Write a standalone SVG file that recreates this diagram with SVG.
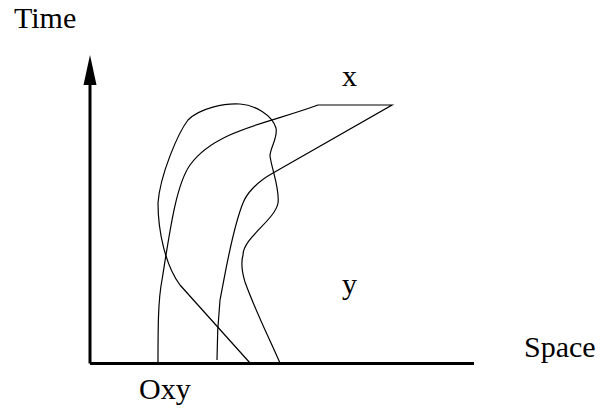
<svg xmlns="http://www.w3.org/2000/svg" width="605" height="419" viewBox="0 0 605 419">
<style>
text{font-family:"Liberation Serif","Times New Roman",serif;font-size:30px;fill:#000}
.c{fill:none;stroke:#000;stroke-width:1.2}
.ax{fill:none;stroke:#000;stroke-width:3}
</style>
<rect width="605" height="419" fill="#fff"/>
<g id="axes">
<path class="ax" d="M90,363.5 H474 M90,363.5 V80"/>
<polygon points="90,55 83.5,85 96.5,85" fill="#000"/>
</g>
<g id="connectors">
<path class="c" d="M250,363 L180,285 C165,265 158,230 158,203 C160,175 178,133 188,120 C200,108 225,103 240,104 C255,105 272,115 276,128 C278,138 270,148 270,156 C272,170 280,190 278,203 C275,220 243,238 243,255 C241,262 242,272 245,282 C255,310 270,340 280,363"/>
<path class="c" d="M158,363 C158,330 158,300 162,280 C170,230 176,185 190,165 C215,130 270,123 318,105 H392 L273,173 C255,183 246,195 243,203 C232,230 225,275 220,300 C218,320 217,340 217,360"/>
</g>
<g id="labels">
<text x="14" y="28">Time</text>
<text x="342" y="86">x</text>
<text x="342" y="294">y</text>
<text x="524" y="357">Space</text>
<text x="139" y="399">Oxy</text>
</g>
</svg>
